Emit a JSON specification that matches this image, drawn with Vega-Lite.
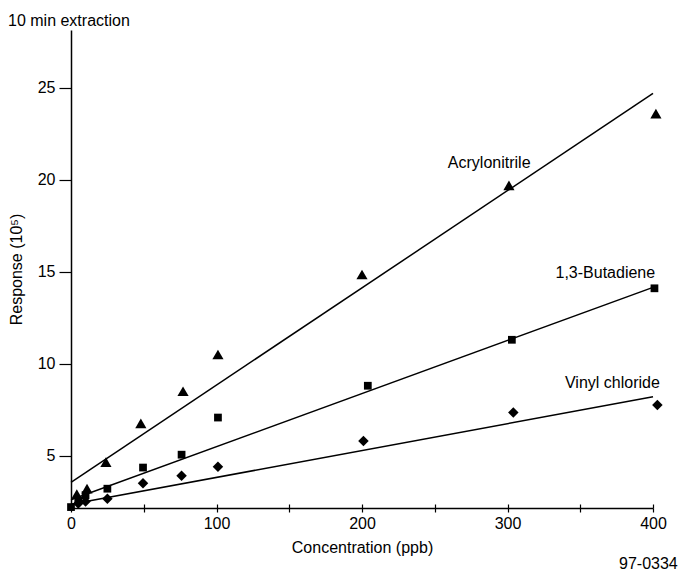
{
  "$schema": "https://vega.github.io/schema/vega-lite/v6.json",
  "width": 582,
  "height": 478,
  "autosize": {"type": "none"},
  "padding": {"left": 71, "top": 30, "right": 26, "bottom": 68},
  "background": "white",
  "config": {
    "font": "Liberation Sans",
    "view": {"stroke": null},
    "axis": {
      "domainColor": "black",
      "domainWidth": 1.5,
      "tickColor": "black",
      "tickWidth": 1.2,
      "labelColor": "black",
      "labelFontSize": 16,
      "labelFont": "Liberation Sans",
      "titleColor": "black",
      "titleFontSize": 16,
      "titleFont": "Liberation Sans",
      "titleFontWeight": "normal",
      "grid": false
    }
  },
  "title": {
    "text": "10 min extraction",
    "anchor": "start",
    "frame": "group",
    "orient": "top",
    "dx": -63,
    "dy": 17,
    "offset": 5,
    "baseline": "alphabetic",
    "fontSize": 16,
    "fontWeight": "normal",
    "font": "Liberation Sans",
    "color": "black"
  },
  "datasets": {
    "fits": [
      {"series": "Acrylonitrile", "conc": 0, "resp": 3.55},
      {"series": "Acrylonitrile", "conc": 400, "resp": 24.7},
      {"series": "1,3-Butadiene", "conc": 0, "resp": 2.6},
      {"series": "1,3-Butadiene", "conc": 400, "resp": 14.15},
      {"series": "Vinyl chloride", "conc": 0, "resp": 2.35},
      {"series": "Vinyl chloride", "conc": 400, "resp": 8.2}
    ],
    "points": [
      {"series": "Acrylonitrile", "conc": 4, "resp": 2.9},
      {"series": "Acrylonitrile", "conc": 11, "resp": 3.2},
      {"series": "Acrylonitrile", "conc": 24, "resp": 4.65},
      {"series": "Acrylonitrile", "conc": 48, "resp": 6.75},
      {"series": "Acrylonitrile", "conc": 77, "resp": 8.5},
      {"series": "Acrylonitrile", "conc": 101, "resp": 10.5},
      {"series": "Acrylonitrile", "conc": 200, "resp": 14.85},
      {"series": "Acrylonitrile", "conc": 301, "resp": 19.7},
      {"series": "Acrylonitrile", "conc": 402, "resp": 23.6},
      {"series": "1,3-Butadiene", "conc": 0, "resp": 2.2},
      {"series": "1,3-Butadiene", "conc": 5, "resp": 2.55},
      {"series": "1,3-Butadiene", "conc": 10, "resp": 2.85},
      {"series": "1,3-Butadiene", "conc": 25, "resp": 3.2},
      {"series": "1,3-Butadiene", "conc": 49.5, "resp": 4.35},
      {"series": "1,3-Butadiene", "conc": 76, "resp": 5.05},
      {"series": "1,3-Butadiene", "conc": 101, "resp": 7.07},
      {"series": "1,3-Butadiene", "conc": 204, "resp": 8.8},
      {"series": "1,3-Butadiene", "conc": 303, "resp": 11.3},
      {"series": "1,3-Butadiene", "conc": 401, "resp": 14.1},
      {"series": "Vinyl chloride", "conc": 5, "resp": 2.4},
      {"series": "Vinyl chloride", "conc": 10, "resp": 2.5},
      {"series": "Vinyl chloride", "conc": 25, "resp": 2.65},
      {"series": "Vinyl chloride", "conc": 49.5, "resp": 3.5},
      {"series": "Vinyl chloride", "conc": 76, "resp": 3.9},
      {"series": "Vinyl chloride", "conc": 101, "resp": 4.4},
      {"series": "Vinyl chloride", "conc": 201, "resp": 5.8},
      {"series": "Vinyl chloride", "conc": 304, "resp": 7.35},
      {"series": "Vinyl chloride", "conc": 403, "resp": 7.75}
    ],
    "labels": [
      {"label": "Acrylonitrile", "conc": 259, "resp": 20.9},
      {"label": "1,3-Butadiene", "conc": 333, "resp": 14.95},
      {"label": "Vinyl chloride", "conc": 339.5, "resp": 8.97}
    ],
    "note": [
      {"label": "97-0334", "conc": 417, "resp": -0.92}
    ]
  },
  "resolve": {"axis": {"x": "independent"}},
  "layer": [
    {
      "data": {"name": "fits"},
      "mark": {"type": "line", "color": "black", "strokeWidth": 1.5},
      "encoding": {
        "x": {
          "field": "conc",
          "type": "quantitative",
          "scale": {"domain": [0, 400], "nice": false, "zero": false},
          "axis": {
            "orient": "bottom",
            "values": [0, 50, 100, 150, 200, 250, 300, 350, 400],
            "labelExpr": "datum.value % 100 === 0 ? datum.label : ''",
            "tickSize": 4,
            "labelPadding": 3,
            "labelFlush": false,
            "labelOverlap": false,
            "title": "Concentration (ppb)",
            "titlePadding": 8
          }
        },
        "y": {
          "field": "resp",
          "type": "quantitative",
          "scale": {"domain": [2.15, 28.15], "nice": false, "zero": false},
          "axis": {
            "values": [5, 10, 15, 20, 25],
            "tickSize": 12,
            "labelPadding": 4,
            "title": "Response (10⁵)",
            "titlePadding": 13
          }
        },
        "detail": {"field": "series"}
      }
    },
    {
      "data": {"name": "points"},
      "mark": {"type": "point", "filled": true, "color": "black", "opacity": 1},
      "encoding": {
        "x": {
          "field": "conc",
          "type": "quantitative",
          "scale": {"domain": [0, 400], "nice": false, "zero": false},
          "axis": {
            "orient": "bottom",
            "values": [0, 50, 100, 150, 200, 250, 300, 350, 400],
            "tickSize": -4,
            "labels": false,
            "domain": false,
            "title": null
          }
        },
        "y": {"field": "resp", "type": "quantitative"},
        "shape": {
          "field": "series",
          "type": "nominal",
          "scale": {"domain": ["Acrylonitrile", "1,3-Butadiene", "Vinyl chloride"], "range": ["triangle-up", "square", "diamond"]},
          "legend": null
        },
        "size": {
          "field": "series",
          "type": "nominal",
          "scale": {"type": "ordinal", "domain": ["Acrylonitrile", "1,3-Butadiene", "Vinyl chloride"], "range": [125, 60, 110]},
          "legend": null
        }
      }
    },
    {
      "data": {"name": "labels"},
      "mark": {"type": "text", "align": "left", "baseline": "middle", "fontSize": 16, "font": "Liberation Sans", "color": "black"},
      "encoding": {
        "x": {"field": "conc", "type": "quantitative", "axis": null},
        "y": {"field": "resp", "type": "quantitative"},
        "text": {"field": "label"}
      }
    },
    {
      "data": {"name": "note"},
      "mark": {"type": "text", "align": "right", "baseline": "middle", "fontSize": 16, "font": "Liberation Sans", "color": "black", "clip": false},
      "encoding": {
        "x": {"field": "conc", "type": "quantitative", "axis": null},
        "y": {"field": "resp", "type": "quantitative"},
        "text": {"field": "label"}
      }
    }
  ]
}
